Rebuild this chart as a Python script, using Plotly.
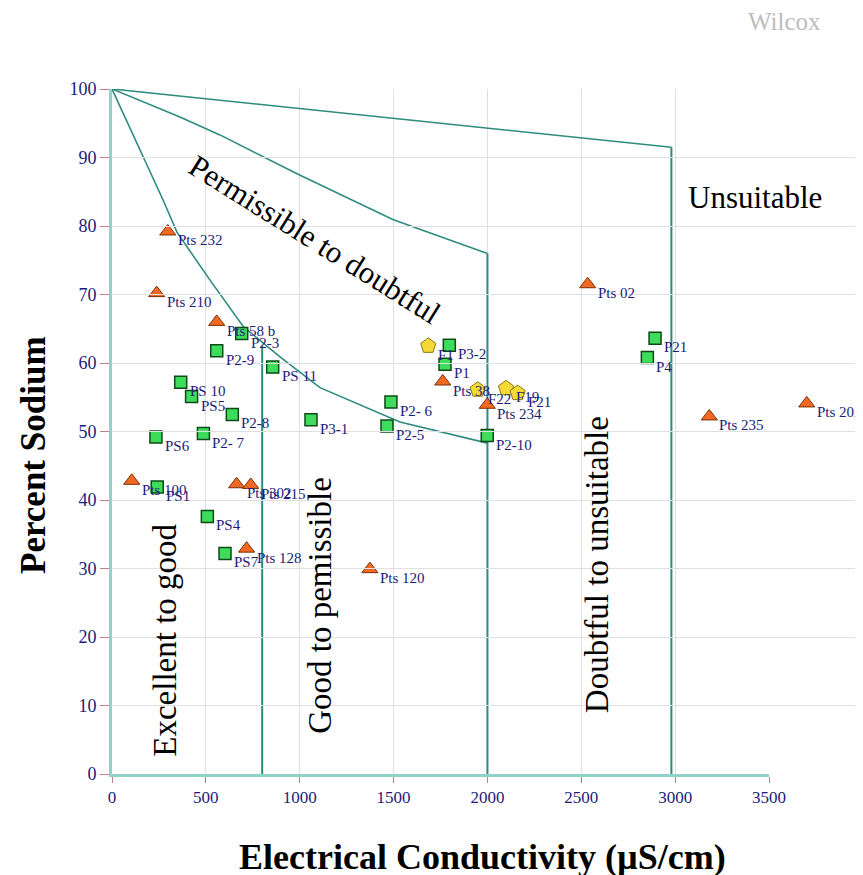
import plotly.graph_objects as go

# ---------------- data ----------------
sq_names = ["P2-3", "P2-9", "PS 11", "PS 10", "PS5", "P2-8", "P2- 7", "PS6", "P3-1",
            "P2- 6", "P2-5", "P2-10", "P3-2", "P1", "P21", "P4", "PS1", "PS4", "PS7"]
sq_ec = [691, 558, 856, 366, 424, 641, 487, 234, 1060,
         1486, 1465, 1999, 1797, 1774, 2893, 2852, 241, 508, 602]
sq_na = [64.3, 61.8, 59.4, 57.2, 55.1, 52.5, 49.7, 49.2, 51.7,
         54.3, 50.8, 49.4, 62.6, 59.8, 63.6, 60.8, 41.9, 37.6, 32.2]

tri_names = ["Pts 232", "Pts 210", "Pts 58 b", "Pts 38", "Pts 234", "Pts 02", "Pts 235",
             "Pts 202", "Pts 100", "Pts 302", "Pts 215", "Pts 128", "Pts 120"]
tri_ec = [297, 238, 558, 1762, 1999, 2534, 3182, 3701, 105, 664, 739, 717, 1374]
tri_na = [79.2, 70.2, 66.0, 57.3, 53.9, 71.5, 52.2, 54.1, 42.8, 42.3, 42.2, 32.9, 29.9]

pen_names = ["F1", "F22", "F19", "F21"]
pen_ec = [1685, 1948, 2099, 2161]
pen_na = [62.5, 56.1, 56.3, 55.6]

# boundary curves of the diagram
top_ec = [0, 2980]
top_na = [100, 91.5]
mid_ec = [0, 362, 575, 1002, 1499, 2000]
mid_na = [100, 95.9, 93.3, 87.4, 80.9, 76]
low_ec = [0, 176, 272, 346, 522, 700, 895, 1108, 1534, 2000]
low_na = [100, 89.6, 83.8, 79.1, 72.1, 65.3, 60.9, 56.4, 51.4, 48.3]
vert_ec = [800, 2000, 2980]
vert_top = [62.6, 76, 91.5]

x_ticks = [0, 500, 1000, 1500, 2000, 2500, 3000, 3500]
y_ticks = [0, 10, 20, 30, 40, 50, 60, 70, 80, 90, 100]
X_MAX = 3500

# ---------------- geometry (page pixels) ----------------
PLOT_W = 743          # full drawing area (points may spill past 3500)
AXIS_W = 657          # width of the 0-3500 axis
PLOT_H = 685
DOM = AXIS_W / PLOT_W
X2_MAX = X_MAX * PLOT_W / AXIS_W

LINE = "#2e8b80"
NAVY = "#1c1c78"
SERIF = "Liberation Serif"

fig = go.Figure()

for ex, ny in [(top_ec, top_na), (mid_ec, mid_na), (low_ec, low_na)]:
    fig.add_trace(go.Scatter(x=ex, y=ny, mode="lines", line=dict(color=LINE, width=1.6),
                             hoverinfo="skip", showlegend=False))
for ex, ny in zip(vert_ec, vert_top):
    fig.add_trace(go.Scatter(x=[ex, ex], y=[0, ny], mode="lines",
                             line=dict(color=LINE, width=2), hoverinfo="skip", showlegend=False))

lab_font = dict(family=SERIF, size=15, color=NAVY)


def add_series(names, ec, na, marker, xshift):
    inside = [i for i, v in enumerate(ec) if v <= X_MAX]
    outside = [i for i, v in enumerate(ec) if v > X_MAX]
    for idx, xa in [(inside, "x"), (outside, "x2")]:
        if not idx:
            continue
        fig.add_trace(go.Scatter(x=[ec[i] for i in idx], y=[na[i] for i in idx],
                                 mode="markers", marker=marker, xaxis=xa, yaxis="y",
                                 cliponaxis=False, showlegend=False))
        for i in idx:
            fig.add_annotation(x=ec[i], y=na[i], xref=xa, yref="y", text=names[i],
                               showarrow=False, xanchor="left", yanchor="middle",
                               xshift=xshift, yshift=-9, font=lab_font)


add_series(tri_names, tri_ec, tri_na,
           dict(symbol="triangle-up", size=14, color="#f26a22",
                line=dict(color="#7a2e08", width=1)), 8)
add_series(pen_names, pen_ec, pen_na,
           dict(symbol="pentagon", size=16, color="#f7d935",
                line=dict(color="#8a7a10", width=1)), 8)
add_series(sq_names, sq_ec, sq_na,
           dict(symbol="square", size=12, color="#3ddc5a",
                line=dict(color="#0d4a18", width=1.5)), 7)

ann_font = dict(family=SERIF, size=33, color="black")
fig.add_annotation(x=1081, y=78, text="Permissible to doubtful", showarrow=False,
                   textangle=32, font=dict(family=SERIF, size=31, color="black"))
fig.add_annotation(x=3425, y=84.1, text="Unsuitable", showarrow=False,
                   font=dict(family=SERIF, size=31, color="black"))
fig.add_annotation(x=282, y=19.6, text="Excellent to good", showarrow=False,
                   textangle=-90, font=ann_font)
fig.add_annotation(x=1108, y=24.7, text="Good to pemissible", showarrow=False,
                   textangle=-90, font=ann_font)
fig.add_annotation(x=2584, y=30.5, text="Doubtful to unsuitable", showarrow=False,
                   textangle=-90, font=ann_font)


def px(xp, yp):
    return (xp - 112) / PLOT_W, (774 - yp) / PLOT_H


wx, wy = px(784, 22)
fig.add_annotation(xref="paper", yref="paper", x=wx, y=wy, text="Wilcox", showarrow=False,
                   xanchor="center", yanchor="middle",
                   font=dict(family=SERIF, size=25, color="#bdbdbd"))
tx, ty = px(33, 455)
fig.add_annotation(xref="paper", yref="paper", x=tx, y=ty,
                   text="<b>Percent Sodium</b>", showarrow=False, textangle=-90,
                   xanchor="center", yanchor="middle",
                   font=dict(family=SERIF, size=35, color="black"))
bx, by = px(482, 857)
fig.add_annotation(xref="paper", yref="paper", x=bx, y=by,
                   text="<b>Electrical Conductivity (µS/cm)</b>", showarrow=False,
                   xanchor="center", yanchor="middle",
                   font=dict(family=SERIF, size=36, color="black"))

fig.update_layout(
    width=863, height=875, margin=dict(l=104, r=16, t=81, b=109, autoexpand=False),
    plot_bgcolor="rgba(0,0,0,0)", paper_bgcolor="white",
    xaxis=dict(domain=[0, DOM], range=[0, X_MAX], tickvals=x_ticks, showgrid=True,
               gridcolor="#e0e0e0", zeroline=False, showline=True, linecolor="#8fd3cb",
               linewidth=3, ticks="outside", ticklen=6, tickcolor="#c08080",
               automargin=False,
               tickfont=dict(family=SERIF, size=17, color=NAVY)),
    xaxis2=dict(domain=[0, 1], range=[0, X2_MAX], anchor="y",
                visible=False, showgrid=False, zeroline=False, automargin=False),
    yaxis=dict(range=[0, 100], tickvals=y_ticks, showgrid=True, gridcolor="#e0e0e0",
               zeroline=False, showline=True, linecolor="#8fd3cb", linewidth=3,
               ticks="outside", ticklen=9, tickcolor="#c08080", automargin=False,
               tickfont=dict(family=SERIF, size=18, color=NAVY)),
)

fig.write_html("out.html")
